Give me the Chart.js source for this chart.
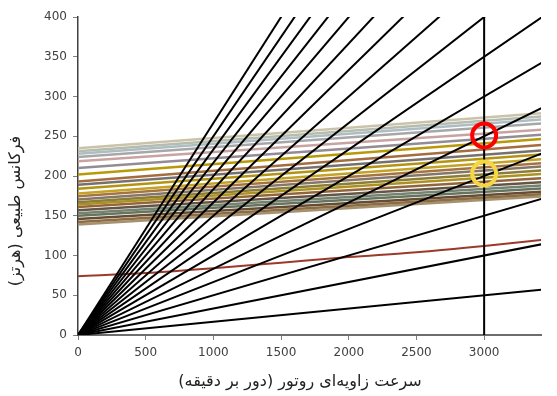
<!DOCTYPE html>
<html>
<head>
<meta charset="utf-8">
<script src="https://cdn.jsdelivr.net/npm/chart.js@4"></script>
<style>
html,body{margin:0;padding:0;background:#fff;}
#wrap{width:557px;height:396px;position:relative;}
</style>
</head>
<body>
<div id="wrap"><canvas id="c" width="557" height="396"></canvas></div>
<script>
// ---- data ----
const xTitle = 'سرعت زاویه‌ای روتور (دور بر دقیقه)';
const yTitle = 'فرکانس طبیعی (هرتز)';
const yTicks = [0, 50, 100, 150, 200, 250, 300, 350, 400];
const xTicks = [0, 500, 1000, 1500, 2000, 2500, 3000];

// excitation (engine order) lines: f = order * rpm / 60
const engineOrders = [1, 2, 3, 4, 5, 6, 7, 8, 9, 10, 11, 12, 13, 14, 15, 16];
const orderRpm = [0, 3500];

// operating speed marker
const operatingRpm = 3000;
const operatingLine = [0, 400];

// natural frequency curves of the upper band (Hz at 0 rpm and at 3500 rpm)
const bandRpm = [0, 3500];
const bandStart = [235, 231, 228, 224, 218.5, 210, 202, 193, 189, 184, 178, 174.5, 170.5, 167, 164, 161, 157, 153, 150, 146, 142, 139];
const bandEnd   = [280, 276, 272, 267, 259, 253, 247.5, 240, 233, 228, 222, 217, 213, 208, 203.5, 198, 193, 189, 185, 181, 178, 175];

// lowest natural frequency curve
const lowModeRpm = [0, 500, 1000, 1500, 2000, 2500, 3000, 3500];
const lowModeHz  = [74, 78, 84, 91, 98, 104, 112, 121];

// highlighted crossings
const markRpm = [3000, 3000];
const markHz  = [251, 203];

// ---- styles ----
const bandColors = ['#cbc3a9', '#b5bdb0', '#aebcc4', '#a7a7a7', '#c9a3a1', '#948c94', '#b89a08', '#a36d3d', '#76716f', '#b39412', '#c2a325', '#a5743f', '#85766a', '#8d7d32', '#aa9222', '#94653a', '#655545', '#75826f', '#65745f', '#664c33', '#8c6c40', '#a3916f'];
const markColors = ['#ff0000', '#f7d741'];

const datasets = [];
markRpm.forEach((r, i) => {
  datasets.push({
    type: 'scatter',
    data: [{x: r, y: markHz[i]}],
    pointRadius: 12,
    pointBorderWidth: 4,
    pointBorderColor: markColors[i],
    pointBackgroundColor: 'rgba(0,0,0,0)',
    pointHoverRadius: 12,
    showLine: false
  });
});
datasets.push({
  data: operatingLine.map(v => ({x: operatingRpm, y: v})),
  borderColor: '#000', borderWidth: 2, pointRadius: 0
});
engineOrders.forEach(k => {
  datasets.push({
    data: orderRpm.map(r => ({x: r, y: k * r / 60})),
    borderColor: '#000', borderWidth: 2, pointRadius: 0
  });
});
datasets.push({
  data: lowModeRpm.map((r, i) => ({x: r, y: lowModeHz[i]})),
  borderColor: '#9b3a2a', borderWidth: 2, pointRadius: 0,
  cubicInterpolationMode: 'monotone'
});
bandStart.forEach((v, i) => {
  datasets.push({
    data: [{x: bandRpm[0], y: v}, {x: bandRpm[1], y: bandEnd[i]}],
    borderColor: bandColors[i], borderWidth: 2.5, pointRadius: 0
  });
});

// axis titles drawn at their reference positions
const titlePlugin = {
  id: 'titles',
  afterDraw(chart) {
    const ctx = chart.ctx;
    ctx.save();
    ctx.fillStyle = '#222';
    ctx.font = '16px "DejaVu Sans"';
    ctx.textAlign = 'center';
    ctx.textBaseline = 'middle';
    ctx.fillText(xTitle, 300, 382);
    ctx.translate(16, 211);
    ctx.rotate(-Math.PI / 2);
    ctx.fillText(yTitle, 0, 0);
    ctx.restore();
  }
};

const tickFont = {family: 'DejaVu Sans', size: 12};
new Chart(document.getElementById('c'), {
  type: 'line',
  data: {datasets},
  plugins: [titlePlugin],
  options: {
    responsive: false,
    animation: false,
    events: [],
    layout: {padding: {top: 17, right: 0, bottom: 0, left: 0}},
    plugins: {legend: {display: false}, tooltip: {enabled: false}},
    scales: {
      x: {
        type: 'linear', min: 0, max: 3420,
        afterBuildTicks: s => { s.ticks = xTicks.map(v => ({value: v})); },
        afterFit: s => { s.height = 61; },
        ticks: {font: tickFont, color: '#404040', padding: 6, maxRotation: 0, autoSkip: false, callback: v => String(v)},
        grid: {display: true, drawOnChartArea: false, drawTicks: true, tickLength: 5, color: '#7f7f7f'},
        border: {display: true, color: '#6d6d6d', width: 2}
      },
      y: {
        type: 'linear', min: 0, max: 400,
        afterBuildTicks: s => { s.ticks = yTicks.map(v => ({value: v})); },
        afterFit: s => { s.width = 78; },
        ticks: {font: tickFont, color: '#404040', padding: 6, callback: v => String(v)},
        grid: {display: true, drawOnChartArea: false, drawTicks: true, tickLength: 5, color: '#7f7f7f'},
        border: {display: true, color: '#404040', width: 1.5}
      }
    }
  }
});
</script>
</body>
</html>
